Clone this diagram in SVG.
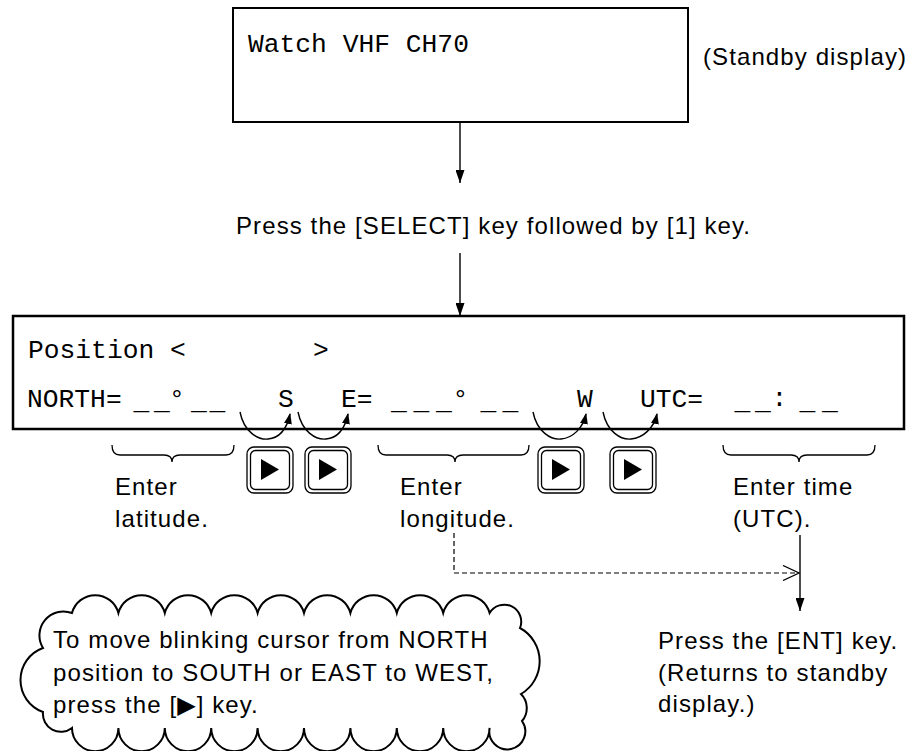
<svg xmlns="http://www.w3.org/2000/svg" width="922" height="751" viewBox="0 0 922 751">
<style>
.mono{font-family:"Liberation Mono","Courier New",monospace;font-size:26.3px;fill:#000}
.sans{font-family:"Liberation Sans",Arial,"DejaVu Sans",sans-serif;font-size:24px;letter-spacing:1.1px;fill:#000}
.box{fill:#fff;stroke:#000}
.ln{fill:none;stroke:#000;stroke-width:1.4}
.brace{fill:none;stroke:#000;stroke-width:1.3}
.btn{fill:#fff;stroke:#000;stroke-width:1.3}
</style>
<defs>
<marker id="ah" viewBox="0 0 13 9" refX="13" refY="4.5" markerWidth="13" markerHeight="9" markerUnits="userSpaceOnUse" orient="auto"><path d="M0,0 L13,4.5 L0,9 Z" fill="#000"/></marker>
<marker id="ahs" viewBox="0 0 11 8" refX="10" refY="4" markerWidth="11" markerHeight="8" markerUnits="userSpaceOnUse" orient="auto"><path d="M0,0 L11,4 L0,8 Z" fill="#000"/></marker>
<marker id="aho" viewBox="0 0 18 16" refX="17" refY="8" markerWidth="18" markerHeight="16" markerUnits="userSpaceOnUse" orient="auto"><path d="M1,0.5 L17,8 L1,15.5" fill="none" stroke="#000" stroke-width="1.3"/></marker>
<g id="key">
<rect x="0" y="0" width="46" height="46" rx="7" class="btn"/>
<rect x="3.5" y="3.5" width="39" height="39" rx="5" class="btn"/>
<path d="M14,12 L32,22.5 L14,33 Z" fill="#000"/>
</g>
</defs>

<g id="standby">
<rect x="233" y="8" width="455" height="114" class="box" stroke-width="2"/>
<text x="248" y="52" class="mono">Watch VHF CH70</text>
</g>
<g id="standby-label">
<text x="703" y="65" class="sans">(Standby display)</text>
</g>

<g id="select-step">
<text x="236" y="234" class="sans">Press the [SELECT] key followed by [1] key.</text>
</g>

<g id="position-box">
<rect x="13" y="316" width="891" height="113" class="box" stroke-width="2.5"/>
<text x="28" y="358" class="mono">Position</text>
<text x="170" y="358" class="mono">&lt;</text>
<text x="313" y="358" class="mono">&gt;</text>
<text x="27" y="407" class="mono">NORTH=</text>
<text x="133.5 154" y="409" class="mono">__</text>
<text x="169" y="407" class="mono">°</text>
<text x="191 209.5" y="409" class="mono">__</text>
<text x="278" y="407" class="mono">S</text>
<text x="341" y="407" class="mono">E=</text>
<text x="391 413.5 436" y="409" class="mono">___</text>
<text x="452.6" y="407" class="mono">°</text>
<text x="480.5 502.5" y="409" class="mono">__</text>
<text x="577" y="407" class="mono">W</text>
<text x="640" y="407" class="mono">UTC=</text>
<text x="734.5 755" y="409" class="mono">__</text>
<text x="771.5" y="406" class="mono">:</text>
<text x="799.5 822" y="409" class="mono">__</text>
</g>

<g id="keys">
<use href="#key" x="247" y="447"/>
<use href="#key" x="305" y="447"/>
<use href="#key" x="538" y="447"/>
<use href="#key" x="610" y="447"/>
</g>

<g id="braces">
<path class="brace" d="M112,445 Q112,455 120,455 L164,455 Q172,455 172,462 Q172,455 180,455 L226,455 Q234,455 234,445"/>
<path class="brace" d="M378,445 Q378,455 386,455 L447,455 Q455,455 455,462 Q455,455 463,455 L521,455 Q529,455 529,445"/>
<path class="brace" d="M723,445 Q723,455 731,455 L791,455 Q799,455 799,462 Q799,455 807,455 L867,455 Q875,455 875,445"/>
</g>

<g id="labels">
<text x="115" y="495" class="sans">Enter</text>
<text x="115" y="527" class="sans">latitude.</text>
<text x="400" y="495" class="sans">Enter</text>
<text x="400" y="527" class="sans">longitude.</text>
<text x="733" y="495" class="sans">Enter time</text>
<text x="733" y="527" class="sans">(UTC).</text>
</g>

<g id="cloud">
<path fill="#fff" stroke="#000" stroke-width="2" d="M72,613 A24,24 0 0 1 118.4,613 A24,24 0 0 1 164.8,613 A24,24 0 0 1 211.2,613 A24,24 0 0 1 257.6,613 A24,24 0 0 1 304,613 A24,24 0 0 1 350.4,613 A24,24 0 0 1 396.8,613 A24,24 0 0 1 443.2,613 A24,24 0 0 1 489.6,613 A17,17 0 0 1 520,628 A38,38 0 0 1 521,694 A20,20 0 0 1 522,721 A18,18 0 1 1 489.6,728 A23.2,23.2 0 0 1 443.2,728 A23.2,23.2 0 0 1 396.8,728 A23.2,23.2 0 0 1 350.4,728 A23.2,23.2 0 0 1 304,728 A23.2,23.2 0 0 1 257.6,728 A23.2,23.2 0 0 1 211.2,728 A23.2,23.2 0 0 1 164.8,728 A23.2,23.2 0 0 1 118.4,728 A23.2,23.2 0 0 1 72,728 A18,18 0 0 1 43,712 A34,34 0 0 1 43,648 A24,24 0 0 1 72,613 Z"/>
<text x="53" y="648" class="sans">To move blinking cursor from NORTH</text>
<text x="53" y="681" class="sans">position to SOUTH or EAST to WEST,</text>
<text x="53" y="713" class="sans">press the [▶] key.</text>
</g>

<g id="ent-step">
<text x="658" y="649" class="sans">Press the [ENT] key.</text>
<text x="658" y="681" class="sans">(Returns to standby</text>
<text x="658" y="712" class="sans">display.)</text>
</g>

<g id="connectors">
<line x1="460" y1="122" x2="460" y2="183" class="ln" marker-end="url(#ah)"/>
<line x1="460" y1="253" x2="460" y2="316" class="ln" marker-end="url(#ah)"/>
<path class="ln" d="M240,412 C244,432 258,440 268,439 C280,438 287,428 290,414" marker-end="url(#ahs)"/>
<path class="ln" d="M298,412 C302,432 316,440 326,439 C338,438 345,428 348,414" marker-end="url(#ahs)"/>
<path class="ln" d="M533,412 C537,432 551,440 561,439 C573,438 583,428 586,414" marker-end="url(#ahs)"/>
<path class="ln" d="M603,412 C607,432 621,440 631,439 C643,438 654,428 657,414" marker-end="url(#ahs)"/>
<path d="M454,533 L454,573 L799,573" fill="none" stroke="#000" stroke-width="1.2" stroke-dasharray="5,3" marker-end="url(#aho)"/>
<line x1="800" y1="535" x2="800" y2="611" class="ln" marker-end="url(#ah)"/>
</g>
</svg>
